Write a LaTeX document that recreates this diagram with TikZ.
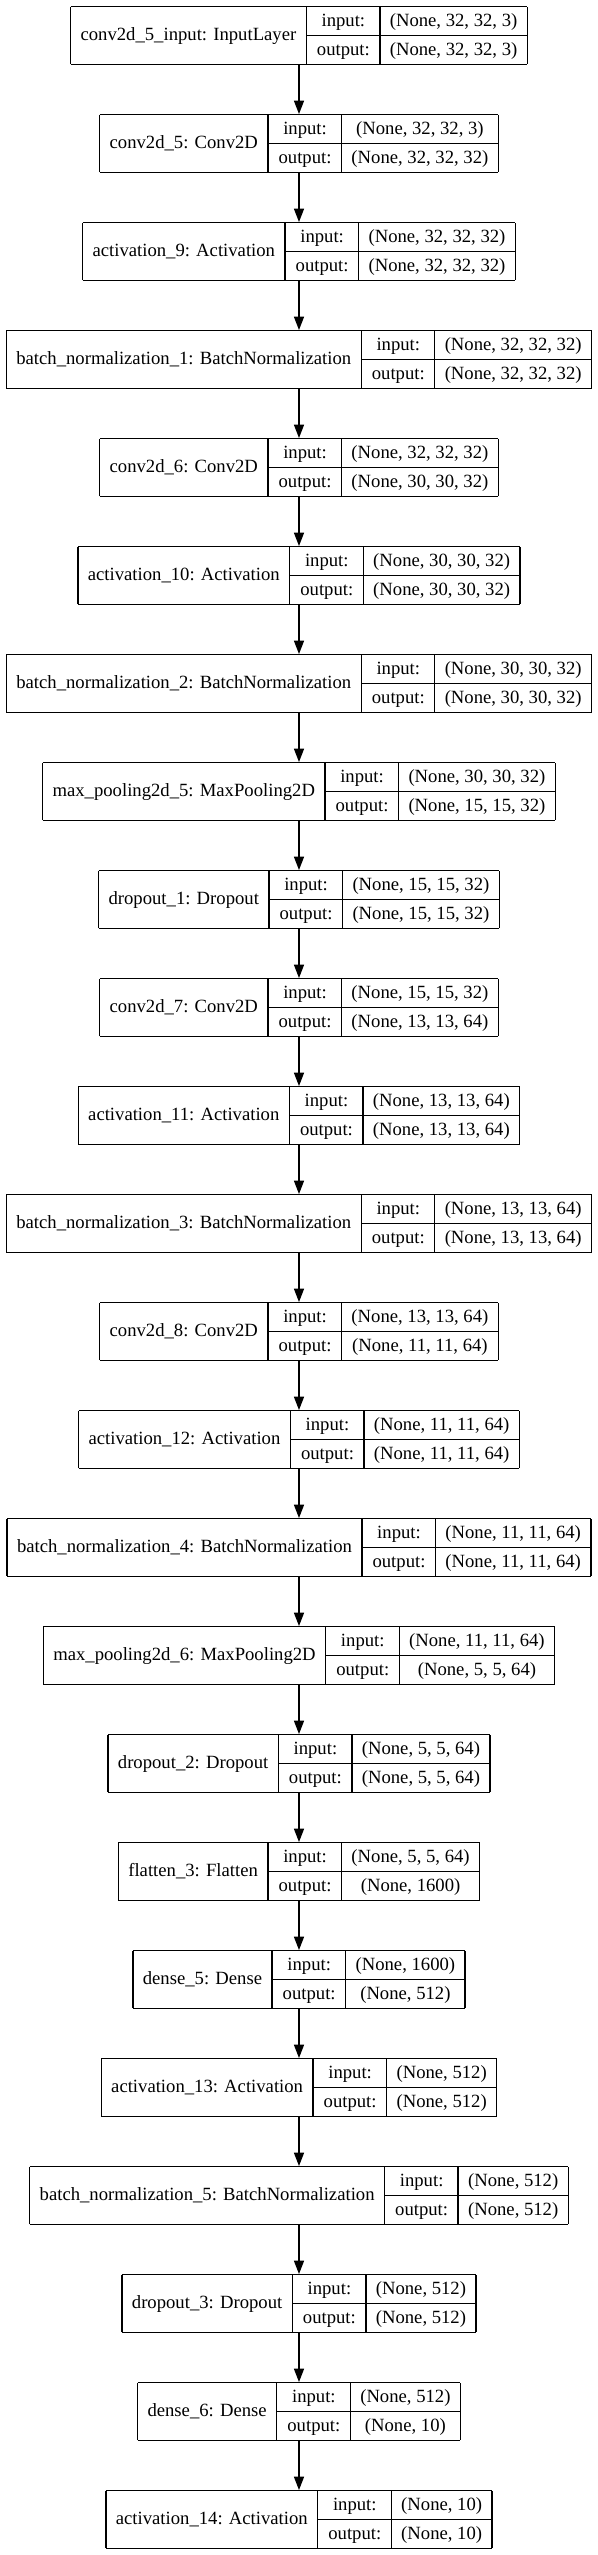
\documentclass[tikz,border=0pt]{standalone}
\usepackage{fontspec}
\setmainfont{Liberation Serif}
\usetikzlibrary{arrows.meta}
\newcommand{\rowstrut}{\rule[-6pt]{0pt}{20.6pt}}
\newcommand{\layerbox}[3]{%
  \setlength{\tabcolsep}{7.5pt}\setlength{\arrayrulewidth}{1pt}%
  \begin{tabular}{|c|@{}c@{}|}\hline
    #1 & \begin{tabular}{c|c}\rowstrut input: & #2\\\hline\rowstrut output: & #3\end{tabular}\\\hline
  \end{tabular}}
\begin{document}
\begin{tikzpicture}[font=\fontsize{14pt}{17pt}\selectfont,
    layer/.style={inner sep=0pt,outer sep=0pt},
    flow/.style={-{Triangle[length=10pt,width=7.5pt]},line width=1pt}]
    \useasboundingbox (-224.25pt,0pt) rectangle (224.25pt,-1916.25pt);
    \foreach \nm/\shin/\shout [count=\i from 0] in {
        {conv2d\_5\_input: InputLayer}/{(None, 32, 32, 3)}/{(None, 32, 32, 3)},
        {conv2d\_5: Conv2D}/{(None, 32, 32, 3)}/{(None, 32, 32, 32)},
        {activation\_9: Activation}/{(None, 32, 32, 32)}/{(None, 32, 32, 32)},
        {batch\_normalization\_1: BatchNormalization}/{(None, 32, 32, 32)}/{(None, 32, 32, 32)},
        {conv2d\_6: Conv2D}/{(None, 32, 32, 32)}/{(None, 30, 30, 32)},
        {activation\_10: Activation}/{(None, 30, 30, 32)}/{(None, 30, 30, 32)},
        {batch\_normalization\_2: BatchNormalization}/{(None, 30, 30, 32)}/{(None, 30, 30, 32)},
        {max\_pooling2d\_5: MaxPooling2D}/{(None, 30, 30, 32)}/{(None, 15, 15, 32)},
        {dropout\_1: Dropout}/{(None, 15, 15, 32)}/{(None, 15, 15, 32)},
        {conv2d\_7: Conv2D}/{(None, 15, 15, 32)}/{(None, 13, 13, 64)},
        {activation\_11: Activation}/{(None, 13, 13, 64)}/{(None, 13, 13, 64)},
        {batch\_normalization\_3: BatchNormalization}/{(None, 13, 13, 64)}/{(None, 13, 13, 64)},
        {conv2d\_8: Conv2D}/{(None, 13, 13, 64)}/{(None, 11, 11, 64)},
        {activation\_12: Activation}/{(None, 11, 11, 64)}/{(None, 11, 11, 64)},
        {batch\_normalization\_4: BatchNormalization}/{(None, 11, 11, 64)}/{(None, 11, 11, 64)},
        {max\_pooling2d\_6: MaxPooling2D}/{(None, 11, 11, 64)}/{(None, 5, 5, 64)},
        {dropout\_2: Dropout}/{(None, 5, 5, 64)}/{(None, 5, 5, 64)},
        {flatten\_3: Flatten}/{(None, 5, 5, 64)}/{(None, 1600)},
        {dense\_5: Dense}/{(None, 1600)}/{(None, 512)},
        {activation\_13: Activation}/{(None, 512)}/{(None, 512)},
        {batch\_normalization\_5: BatchNormalization}/{(None, 512)}/{(None, 512)},
        {dropout\_3: Dropout}/{(None, 512)}/{(None, 512)},
        {dense\_6: Dense}/{(None, 512)}/{(None, 10)},
        {activation\_14: Activation}/{(None, 10)}/{(None, 10)}}
    \node[layer] (l\i) at (0pt,{-26.625pt-81pt*\i}) {\layerbox{\nm}{\shin}{\shout}};
    \foreach \i [remember=\i as \j (initially 0)] in {1,...,23}
    \draw[flow] (l\j.south) -- (l\i.north);
\end{tikzpicture}
\end{document}
